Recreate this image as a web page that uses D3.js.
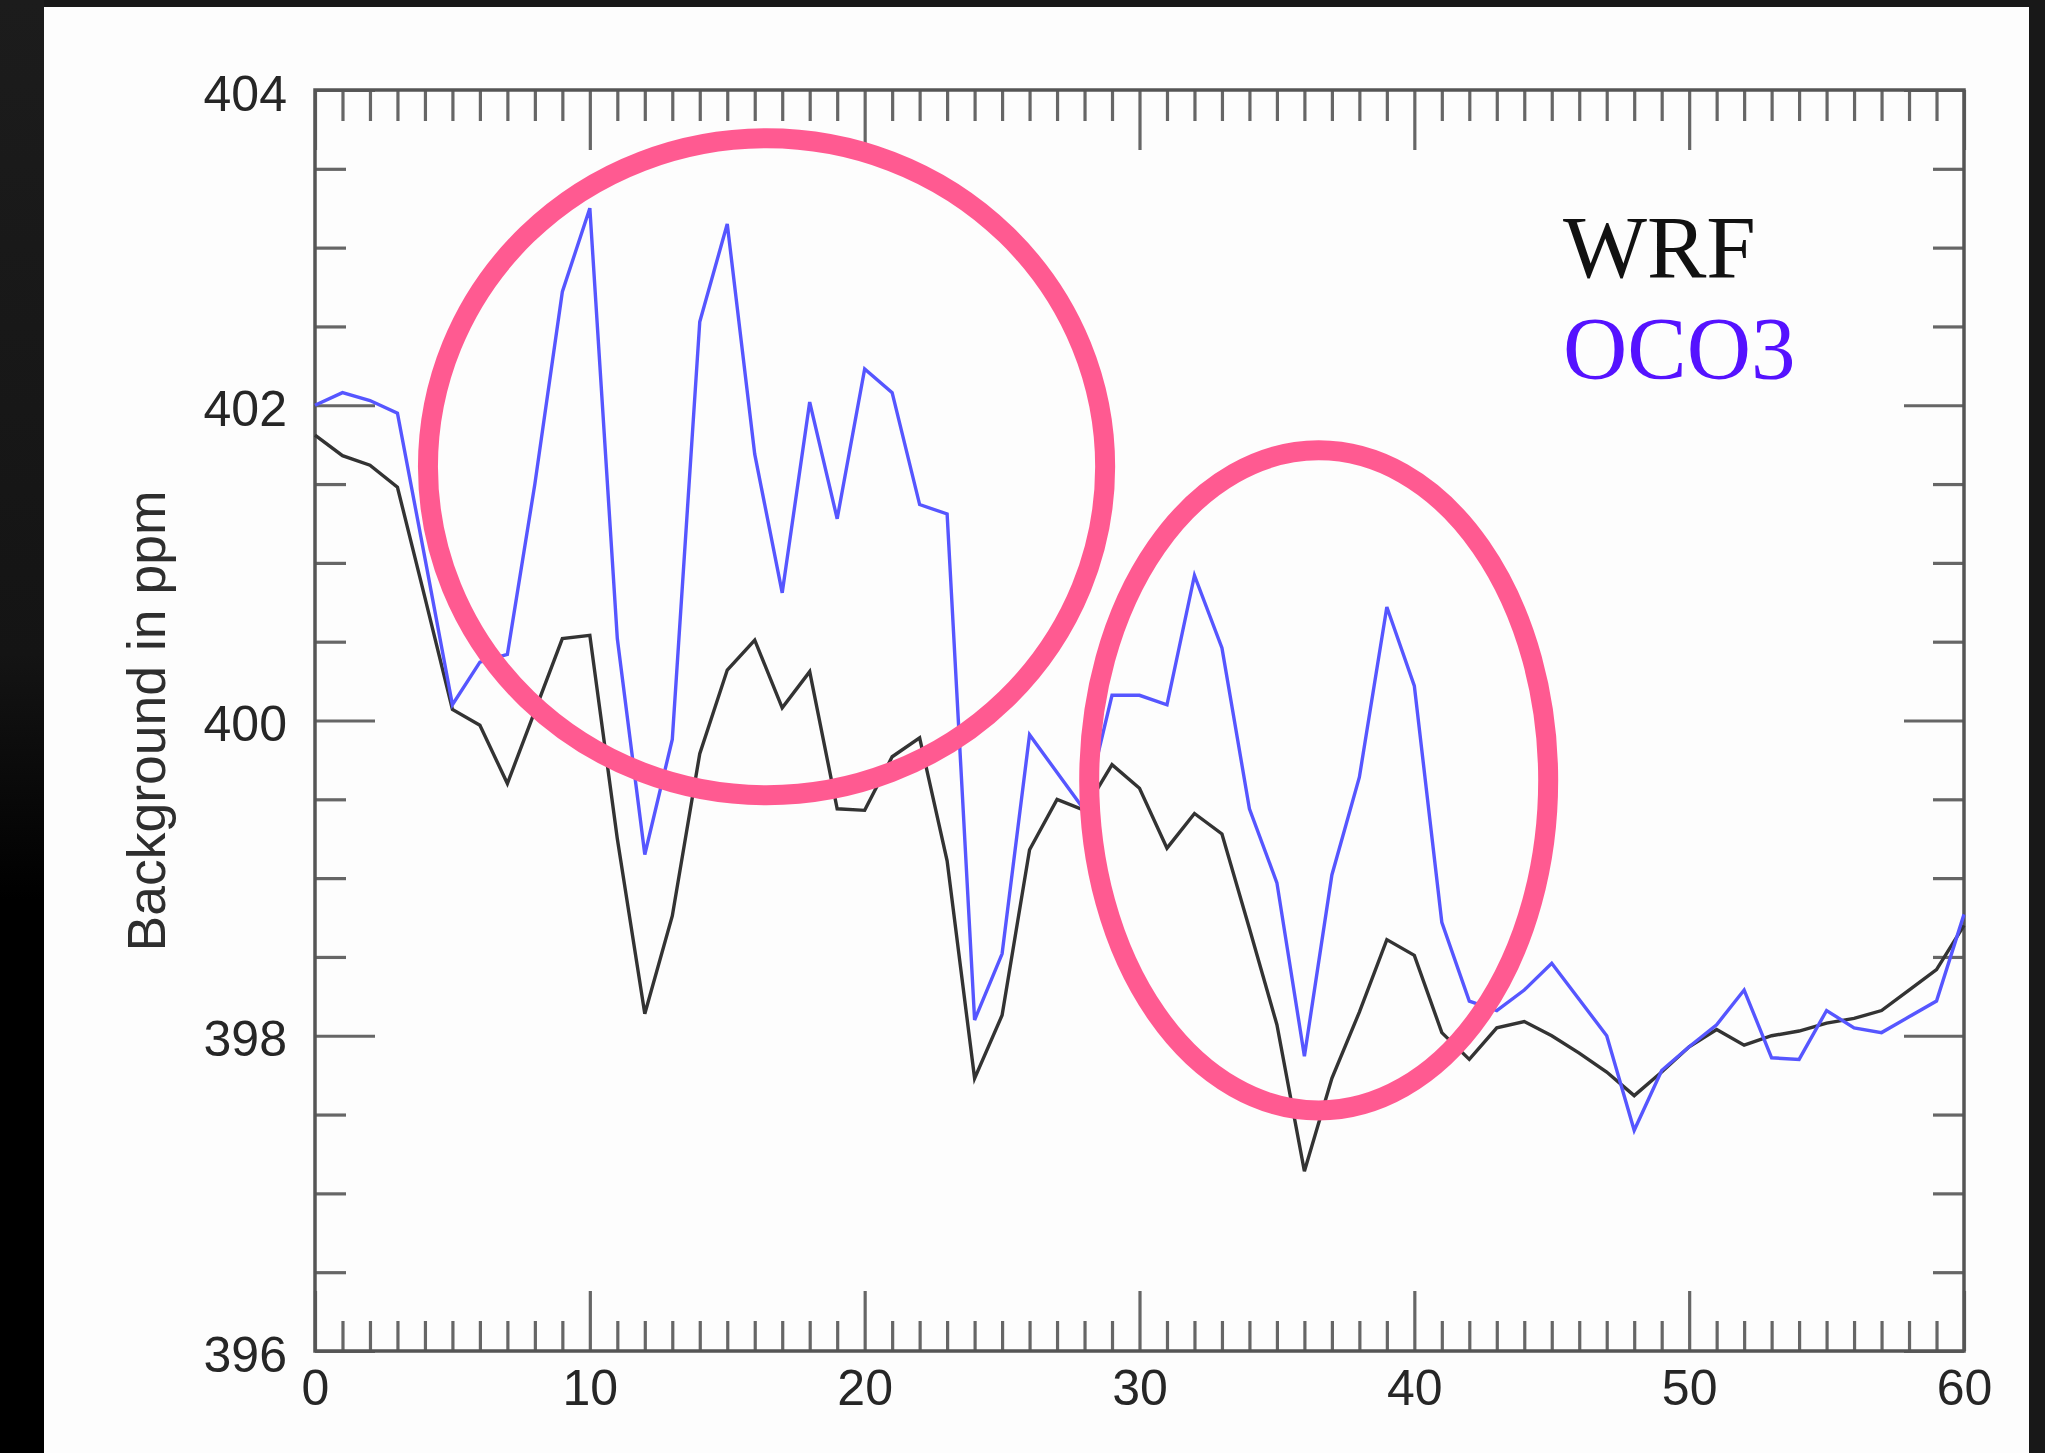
<!DOCTYPE html>
<html>
<head>
<meta charset="utf-8">
<script src="https://cdn.jsdelivr.net/npm/d3@7"></script>
<style>
  html, body { margin: 0; padding: 0; background: #171717; }
  svg { display: block; }
</style>
</head>
<body>
<svg id="chart" width="2045" height="1453"></svg>
<script>
// Background CO2 (ppm) along the track, one value per sample index 0..60
const wrfValues = [
  401.81, 401.68, 401.62, 401.48, 400.78, 400.07, 399.97, 399.60, 400.06, 400.52,
  400.54, 399.25, 398.14, 398.76, 399.79, 400.32, 400.51, 400.08, 400.31, 399.44,
  399.43, 399.77, 399.89, 399.11, 397.73, 398.13, 399.18, 399.50, 399.43, 399.72,
  399.57, 399.19, 399.41, 399.28, 398.68, 398.07, 397.14, 397.73, 398.15, 398.61,
  398.51, 398.02, 397.85, 398.05, 398.09, 398.00, 397.89, 397.77, 397.62, 397.77,
  397.93, 398.04, 397.94, 398.00, 398.03, 398.08, 398.11, 398.16, 398.29, 398.42,
  398.70
];
const oco3Values = [
  402.00, 402.08, 402.03, 401.95, 401.03, 400.10, 400.37, 400.42, 401.50, 402.72,
  403.25, 400.52, 399.15, 399.88, 402.53, 403.15, 401.69, 400.81, 402.02, 401.28,
  402.23, 402.08, 401.37, 401.31, 398.10, 398.52, 399.91, 399.67, 399.43, 400.16,
  400.16, 400.10, 400.92, 400.46, 399.44, 398.97, 397.87, 399.02, 399.64, 400.72,
  400.22, 398.72, 398.22, 398.16, 398.29, 398.46, 398.23, 398.00, 397.40, 397.78,
  397.93, 398.07, 398.29, 397.86, 397.85, 398.16, 398.05, 398.02, 398.12, 398.22,
  398.77
];

const seriesNames = ["WRF", "OCO3"];
const xTickLabels = [0, 10, 20, 30, 40, 50, 60];
const yTickLabels = [396, 398, 400, 402, 404];
const yAxisTitle = "Background in ppm";

// Highlight ellipses, given in data units (centre x, centre ppm, half-width, half-height)
const highlightCx = [16.43, 36.52];
const highlightCy = [401.61, 399.62];
const highlightRx = [12.32, 8.35];
const highlightRy = [2.084, 2.094];

const svg = d3.select("#chart");
const W = 2045, H = 1453;

// Page backdrop: dark border around a white sheet
const defs = svg.append("defs");
const grad = defs.append("linearGradient")
  .attr("id", "leftEdge").attr("x1", 0).attr("y1", 0).attr("x2", 0).attr("y2", 1);
grad.append("stop").attr("offset", "0%").attr("stop-color", "#1c1c1c");
grad.append("stop").attr("offset", "45%").attr("stop-color", "#141414");
grad.append("stop").attr("offset", "62%").attr("stop-color", "#000000");
grad.append("stop").attr("offset", "100%").attr("stop-color", "#000000");

svg.append("rect").attr("x", 0).attr("y", 0).attr("width", W).attr("height", H).attr("fill", "#181818");
svg.append("rect").attr("x", 0).attr("y", 0).attr("width", 44).attr("height", H).attr("fill", "url(#leftEdge)");
svg.append("rect").attr("x", 44).attr("y", 7).attr("width", 2029 - 44).attr("height", H - 7).attr("fill", "#fdfdfd");

const x = d3.scaleLinear().domain([0, 60]).range([315, 1964]);
const y = d3.scaleLinear().domain([396, 404]).range([1351, 90]);

const plot = svg.append("g");

const minorX = d3.range(0, 61, 1).filter(v => v % 10 !== 0);
const minorY = d3.range(396, 404.001, 0.5).filter(v => Math.abs(v % 2) > 1e-9);

const tickColor = "#666";
function styleAxis(g) {
  g.select(".domain").remove();
  g.selectAll(".tick line").attr("stroke", tickColor).attr("stroke-width", 3.2);
  g.selectAll(".tick text")
    .attr("fill", "#262626")
    .attr("font-family", "'Liberation Sans', Arial, Helvetica, sans-serif")
    .attr("font-size", 50);
}

// Bottom axis: labelled major ticks, unlabelled minor ticks, all pointing inward
plot.append("g").attr("transform", `translate(0,${y.range()[0]})`)
  .call(d3.axisBottom(x).tickValues(xTickLabels).tickSize(-60).tickPadding(18).tickFormat(d3.format("d")))
  .call(styleAxis);
plot.append("g").attr("transform", `translate(0,${y.range()[0]})`)
  .call(d3.axisBottom(x).tickValues(minorX).tickSize(-30).tickFormat(""))
  .call(styleAxis);
// Top axis mirrors the bottom one
plot.append("g").attr("transform", `translate(0,${y.range()[1]})`)
  .call(d3.axisTop(x).tickValues(xTickLabels).tickSize(-60).tickFormat(""))
  .call(styleAxis);
plot.append("g").attr("transform", `translate(0,${y.range()[1]})`)
  .call(d3.axisTop(x).tickValues(minorX).tickSize(-31).tickFormat(""))
  .call(styleAxis);

// Left axis
plot.append("g").attr("transform", `translate(${x.range()[0]},0)`)
  .call(d3.axisLeft(y).tickValues(yTickLabels).tickSize(-60).tickPadding(28).tickFormat(d3.format("d")))
  .call(styleAxis)
  .call(g => g.selectAll(".tick text").attr("dy", "0.4em"));
plot.append("g").attr("transform", `translate(${x.range()[0]},0)`)
  .call(d3.axisLeft(y).tickValues(minorY).tickSize(-31).tickFormat(""))
  .call(styleAxis);
// Right axis mirrors the left one
plot.append("g").attr("transform", `translate(${x.range()[1]},0)`)
  .call(d3.axisRight(y).tickValues(yTickLabels).tickSize(-60).tickFormat(""))
  .call(styleAxis);
plot.append("g").attr("transform", `translate(${x.range()[1]},0)`)
  .call(d3.axisRight(y).tickValues(minorY).tickSize(-31).tickFormat(""))
  .call(styleAxis);

// Plot frame
plot.append("rect")
  .attr("x", x.range()[0]).attr("y", y.range()[1])
  .attr("width", x.range()[1] - x.range()[0])
  .attr("height", y.range()[0] - y.range()[1])
  .attr("fill", "none").attr("stroke", "#555").attr("stroke-width", 3.5);

// Y axis title
svg.append("text")
  .attr("transform", `translate(165,721) rotate(-90)`)
  .attr("text-anchor", "middle")
  .attr("font-family", "'Liberation Sans', Arial, Helvetica, sans-serif")
  .attr("font-size", 53.5)
  .attr("fill", "#2e2e2e")
  .text(yAxisTitle);

// Series lines
const line = d3.line().x((d, i) => x(i)).y(d => y(d));
plot.append("path").datum(wrfValues)
  .attr("d", line).attr("fill", "none")
  .attr("stroke", "#333").attr("stroke-width", 3.4).attr("stroke-linejoin", "miter");
plot.append("path").datum(oco3Values)
  .attr("d", line).attr("fill", "none")
  .attr("stroke", "#5656ff").attr("stroke-width", 3.4).attr("stroke-linejoin", "miter");

// Legend
const legendColors = ["#111111", "#5512ff"];
const legendBaselines = [277, 378];
svg.selectAll("text.legend").data(seriesNames).join("text")
  .attr("class", "legend")
  .attr("x", 1563)
  .attr("y", (d, i) => legendBaselines[i])
  .attr("font-family", "'Liberation Serif', 'Times New Roman', serif")
  .attr("font-size", 89)
  .attr("fill", (d, i) => legendColors[i])
  .text(d => d);

// Highlight ellipses drawn over the series
const highlights = highlightCx.map((cx, i) => ({ cx, cy: highlightCy[i], rx: highlightRx[i], ry: highlightRy[i] }));
svg.selectAll("ellipse.highlight").data(highlights).join("ellipse")
  .attr("class", "highlight")
  .attr("cx", d => x(d.cx))
  .attr("cy", d => y(d.cy))
  .attr("rx", d => x(d.cx + d.rx) - x(d.cx))
  .attr("ry", d => y(d.cy - d.ry) - y(d.cy))
  .attr("fill", "none")
  .attr("stroke", "#ff5a91")
  .attr("stroke-width", 20);
</script>
</body>
</html>
